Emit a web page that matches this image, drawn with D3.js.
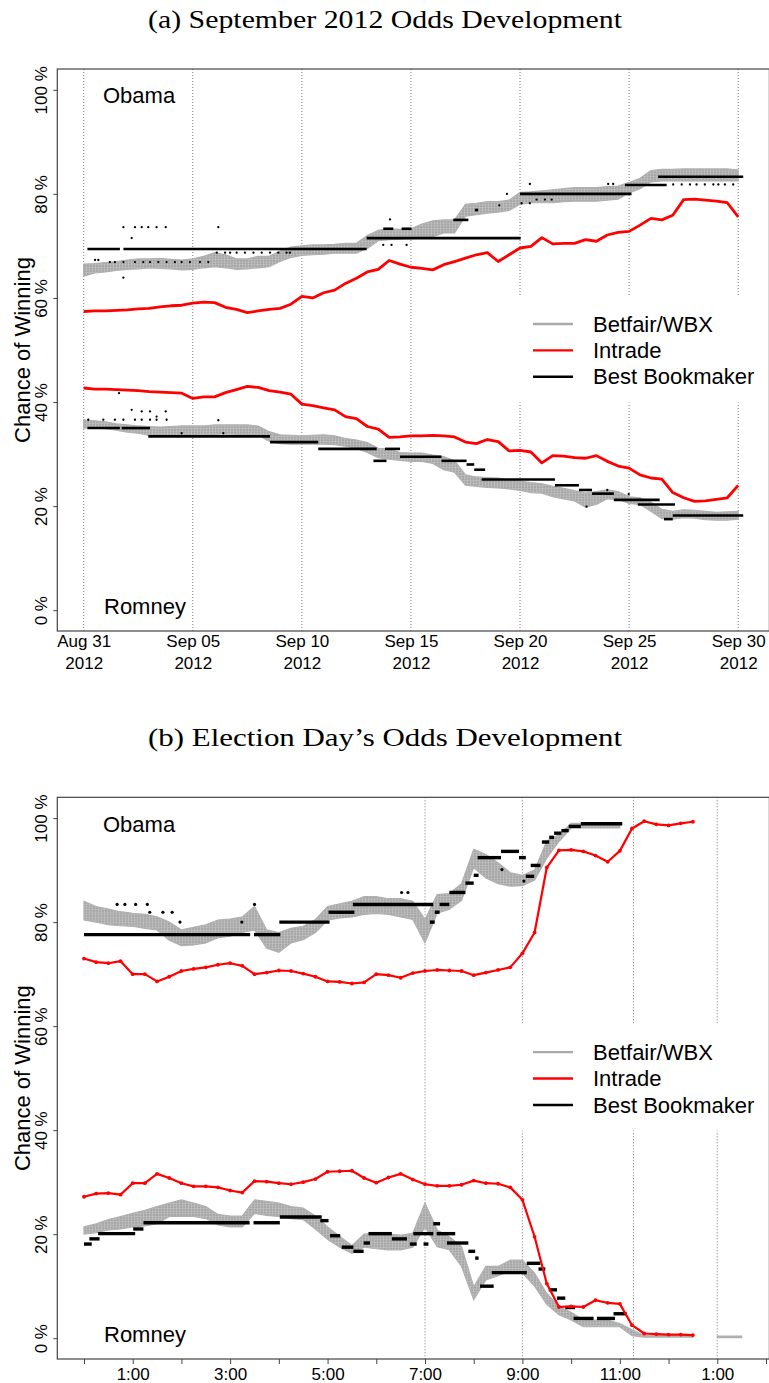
<!DOCTYPE html>
<html><head><meta charset="utf-8">
<script src="https://cdn.jsdelivr.net/npm/d3@7"></script>
<style>body{margin:0;background:#fff} svg{display:block}</style>
</head><body>
<svg id="fig" width="769" height="1383"></svg>
<script>
// ---------- (a) September 2012: one reading every half day from Aug 31 00:00 ----------
const sepStepDays = 0.5;
const sepIntradeObama = [57.4,57.5,57.5,57.6,57.7,57.9,58.0,58.3,58.5,58.6,59.0,59.2,59.1,58.2,57.8,57.2,57.5,57.8,58.0,58.8,
  60.3,60.0,61.0,61.5,62.8,63.8,65.0,65.5,67.2,66.5,65.9,65.7,65.4,66.4,67.0,67.65,68.3,68.7,67.0,68.3,
  69.6,69.9,71.6,70.4,70.5,70.5,71.2,70.9,72.1,72.6,72.8,74.0,75.3,75.0,75.9,78.9,79.0,78.8,78.6,78.3,75.6];
const sepIntradeRomney = [42.7,42.5,42.5,42.4,42.3,42.2,42.0,41.9,41.8,41.7,40.7,41.0,41.0,41.8,42.4,43.0,42.8,42.2,41.9,41.5,
  39.6,39.3,38.9,38.5,37.2,36.8,35.3,34.8,33.2,33.3,33.5,33.5,33.6,33.5,33.3,32.3,32.0,32.8,32.4,30.6,
  30.7,30.4,28.3,29.7,29.6,29.3,29.2,29.7,28.6,27.7,27.3,26.0,25.4,25.2,22.6,21.6,20.9,21.0,21.3,21.6,24.0];
const sepBetfairObamaLo = [64.2,64.8,65.0,65.3,65.5,65.6,65.8,65.7,65.6,65.4,65.5,65.8,66.0,65.8,65.5,65.6,65.8,66.0,67.0,67.8,
  68.2,68.3,68.4,68.6,68.6,68.6,69.5,71.0,71.2,71.3,71.4,71.5,71.8,72.5,72.5,75.7,76.0,76.3,76.5,76.8,
  78.0,78.3,78.3,78.3,78.5,78.6,78.6,78.6,78.8,79.0,80.2,81.0,82.3,82.5,82.5,82.5,82.5,82.5,82.5,82.5,82.5];
const sepBetfairObamaHi = [66.5,66.6,66.8,67.0,67.3,67.5,67.5,67.6,67.4,67.3,67.5,68.0,68.7,68.3,67.5,67.5,68.0,68.0,69.0,69.8,
  70.0,70.2,70.2,70.3,70.5,70.5,72.0,73.0,73.3,73.2,73.3,74.2,74.8,75.0,75.0,78.0,78.2,78.5,78.5,78.8,
  80.3,80.4,80.6,80.8,81.0,81.2,81.2,81.2,81.4,81.5,82.2,83.0,84.5,84.7,84.7,84.8,84.8,84.8,84.8,84.8,84.6];
const sepBetfairRomneyLo = [35.0,35.0,34.9,34.6,34.2,34.0,33.6,33.5,33.4,33.6,33.6,33.7,33.8,33.9,33.8,33.8,33.6,32.5,32.0,31.9,
  31.9,31.9,31.9,31.8,31.5,31.1,30.3,29.3,29.0,28.8,28.6,28.6,28.2,27.0,26.5,24.0,23.8,23.6,23.5,23.3,
  23.0,22.6,22.5,21.8,21.4,21.0,19.8,20.3,21.4,21.3,20.5,20.3,19.0,17.6,17.5,17.8,17.7,17.4,17.3,17.3,17.5];
const sepBetfairRomneyHi = [36.6,36.4,36.2,35.8,35.6,35.4,35.3,35.2,35.3,35.4,35.4,35.4,35.6,35.6,35.6,35.6,35.4,34.3,33.7,33.6,
  33.5,33.6,33.7,33.5,33.0,32.7,32.2,31.1,31.0,30.3,30.2,30.2,29.8,29.5,28.7,26.0,25.6,25.5,25.4,25.0,
  24.8,24.5,24.3,23.8,23.4,23.0,22.5,22.8,23.1,22.8,21.8,21.6,20.8,19.4,19.0,19.3,19.2,19.0,18.8,18.9,19.0];
// best bookmaker quotes: [from day, to day, chance %]
const sepBookObama = [[0.17,1.66,69.4],[1.82,12.97,69.4],[12.97,20.03,71.5],[13.73,14.19,73.3],[14.57,15.03,73.3],
  [16.94,17.63,75.0],[17.93,18.08,76.9],[20.0,25.11,80.0],[24.81,26.72,81.7],[26.33,30.23,83.3]];
const sepBookRomney = [[0.17,1.66,35.0],[1.74,3.04,35.0],[2.96,8.54,33.4],[8.54,10.75,32.3],[10.75,13.43,31.0],
  [13.28,13.88,28.7],[13.81,14.5,31.0],[14.5,16.4,29.5],[16.4,17.55,28.7],[17.55,17.9,28.0],[17.9,18.4,27.0],
  [18.24,21.6,25.1],[21.6,22.7,24.0],[22.7,23.3,23.1],[23.3,24.3,22.4],[24.3,26.4,21.2],[25.4,27.1,20.3],
  [26.6,27.0,17.5],[27.0,30.23,18.2]];
// isolated bookmaker quotes: [day, chance %]
const sepBookObamaDots = [[1.82,73.6],[2.35,73.6],[2.66,73.6],[2.96,73.6],[3.34,73.6],[3.76,73.6],[6.17,73.6],[2.2,71.5],
  [0.52,67.3],[0.67,67.3],[1.2,66.9],[1.43,66.9],[1.82,66.9],[2.35,66.9],[2.73,66.9],[3.04,66.9],[3.42,66.9],[3.8,66.9],
  [4.18,66.9],[4.49,66.9],[4.87,66.9],[5.33,66.9],[5.71,66.9],[1.82,63.9],
  [6.1,68.7],[6.48,68.7],[6.71,68.7],[7.01,68.7],[7.39,68.7],[7.78,68.7],[8.16,68.7],[8.54,68.7],[8.92,68.7],[9.3,68.7],[9.45,68.7],
  [14.04,75.1],[13.73,70.2],[14.11,70.2],[14.8,70.2],[19.4,80.0],[19.05,77.8],[20.07,78.2],[20.45,78.2],
  [20.76,78.9],[21.14,78.9],[21.45,78.9],[20.45,81.9],[24.04,81.9],[24.27,81.9],
  [27.02,81.8],[27.41,81.8],[27.79,81.8],[28.09,81.8],[28.47,81.8],[28.86,81.8],[29.09,81.8],[29.39,81.8],[29.77,81.8]];
const sepBookRomneyDots = [[2.2,38.5],[2.66,38.2],[3.04,38.2],[3.76,38.2],[3.34,37.2],[6.17,36.5],
  [0.21,36.6],[0.9,36.6],[1.43,36.6],[1.82,36.6],[2.35,36.6],[2.66,36.6],[3.04,36.6],[3.34,36.6],[3.8,36.6],
  [4.49,34.0],[6.4,34.0],[1.62,41.7],[23.05,19.9],[24.0,23.1],[24.98,22.3]];
const sepTickDays = [0,5,10,15,20,25,30];
const sepTickYear = "2012";

// ---------- (b) Election day: one reading every quarter hour from 12:00 ----------
const elecStepHours = 0.25;
const elecIntradeObama = [73.0,72.3,72.1,72.5,70.0,70.0,68.6,69.5,70.6,71.0,71.3,71.8,72.1,71.6,70.0,70.3,70.7,70.6,70.1,69.5,
  68.6,68.5,68.2,68.4,70.0,69.8,69.3,70.2,70.6,70.8,70.7,70.6,69.8,70.3,70.8,71.3,74.0,78.0,90.5,93.8,
  93.9,93.6,92.8,91.6,93.7,98.0,99.4,98.8,98.6,99.0,99.3];
const elecIntradeRomney = [27.2,27.8,27.9,27.6,29.8,29.8,31.6,30.8,29.8,29.2,29.2,29.0,28.4,28.0,30.2,30.1,29.8,29.6,30.0,30.6,
  32.0,32.1,32.2,30.8,29.9,30.9,31.6,30.5,29.6,29.3,29.3,29.5,30.3,29.8,29.7,29.0,26.6,19.5,10.5,6.0,
  6.1,6.0,7.3,6.8,6.6,2.5,0.9,0.8,0.7,0.7,0.6];
const elecBetfairObamaLo = [80.4,80.0,79.5,79.3,79.2,78.8,78.5,76.5,75.5,75.6,76.0,77.0,77.3,78.0,78.5,75.0,74.2,76.0,76.6,78.0,
  80.4,80.8,81.0,81.5,81.7,81.5,81.0,80.5,76.0,81.7,82.5,84.2,90.5,88.5,87.4,86.9,87.0,88.1,92.3,95.5,
  98.1,98.1,98.1,98.1,98.1];
const elecBetfairObamaHi = [84.0,83.0,82.5,82.0,81.7,81.5,81.0,80.0,78.5,79.0,79.5,80.4,80.6,81.0,83.0,78.5,78.0,78.8,79.2,80.5,
  83.0,83.5,84.0,84.9,84.9,84.5,84.5,84.0,80.5,85.3,85.5,87.4,94.0,93.0,91.4,89.5,89.0,90.0,95.6,96.8,
  99.0,99.0,99.0,99.0,99.0];
const elecBetfairRomneyLo = [20.0,20.3,20.8,21.0,21.4,21.6,22.0,23.4,23.4,23.4,23.0,21.8,21.4,21.4,24.0,23.6,23.4,23.0,22.8,21.0,
  19.0,17.5,16.3,17.5,17.2,17.0,17.0,17.5,21.4,17.6,17.0,13.8,7.4,11.2,12.0,12.9,12.5,10.0,6.5,4.5,
  3.5,2.2,2.2,2.2,2.2,0.5,0.2,0.2,0.2,0.2,0.2,null,0.1,0.1,0.1];
const elecBetfairRomneyHi = [21.4,22.0,22.8,23.4,24.0,24.6,25.3,26.0,26.6,26.0,25.3,23.8,23.5,23.5,26.6,26.3,26.0,25.3,25.0,23.5,
  21.4,19.6,17.8,20.0,20.2,20.0,19.8,20.2,26.0,20.8,19.5,17.6,9.9,13.8,13.8,15.0,15.0,12.5,8.6,6.1,
  5.0,3.5,3.5,3.5,2.8,1.6,0.5,0.5,0.5,0.5,0.5,null,0.4,0.4,0.4];
// best bookmaker quotes: [from hour, to hour, chance %]
const elecBookObama = [[0,3.41,77.6],[3.49,4.03,77.6],[4.01,5.04,80.0],[5.02,5.55,81.9],[5.52,7.17,83.4],[7.1,7.2,80.0],
  [7.2,7.3,81.9],[7.3,7.5,83.4],[7.5,7.83,85.7],[7.83,8.0,87.5],[8.0,8.1,89.0],[8.08,8.56,92.4],[8.56,8.93,93.6],
  [8.93,9.07,92.4],[9.07,9.24,88.8],[9.17,9.37,90.9],[9.4,9.55,95.4],[9.55,9.65,96.3],[9.65,9.8,97.1],[9.8,9.95,97.6],
  [9.95,10.2,98.4],[10.2,11.05,98.9]];
const elecBookRomney = [[0,0.16,18.1],[0.11,0.32,19.1],[0.29,1.05,20.1],[1.01,1.22,21.0],[1.22,3.4,22.2],[3.48,4.02,22.2],
  [4.02,4.88,23.3],[4.85,5.02,22.6],[5.05,5.26,19.7],[5.29,5.53,17.5],[5.53,5.74,16.7],[5.74,5.87,18.3],[5.84,6.32,20.1],
  [6.32,6.63,19.1],[6.69,6.83,18.1],[6.76,7.17,20.1],[6.97,7.07,18.1],[7.17,7.31,22.0],[7.24,7.62,20.1],[7.45,7.89,18.3],
  [7.89,8.03,16.7],[8.03,8.1,15.4],[8.13,8.41,10.0],[8.37,9.09,12.6],[9.09,9.37,14.4],[9.33,9.47,13.3],[9.54,9.71,9.3],
  [9.71,9.88,7.7],[9.88,10.08,5.9],[10.05,10.46,3.8],[10.53,10.9,3.8],[10.87,11.14,4.7]];
const elecBookObamaDots = [[0.68,83.4],[0.84,83.4],[1.06,83.4],[1.3,83.4],[1.35,81.9],[1.62,81.9],[1.81,81.9],
  [1.97,80.0],[3.24,80.0],[3.5,83.4],[6.52,85.7],[6.65,85.7],[8.58,90.1],[9.03,87.9]];
const elecTickHours = [0,1,2,3,4,5,6,7,8,9,10,11,12,13,14];
const elecTickLabels = ["","1:00","","3:00","","5:00","","7:00","","9:00","","11:00","","1:00",""];
const elecGuideHours = [7, 9, 11.28, 13];

const legendNames = ["Betfair/WBX", "Intrade", "Best Bookmaker"];
const yTicks = [0, 20, 40, 60, 80, 100];

// ---------- drawing ----------
const DAY0 = Date.UTC(2012, 7, 31);
const NOON = Date.UTC(2012, 10, 6, 12);
const atDay = d => new Date(DAY0 + d * 864e5);
const atHour = h => new Date(NOON + h * 36e5);

const SANS = "'Liberation Sans', Arial, Helvetica, sans-serif";
const SERIF = "'Liberation Serif', 'Times New Roman', serif";
const COLORS = ["#a9a9a9", "#ff0000", "#000000"];
const svg = d3.select("#fig");

// speckled fill for the exchange quote clouds
const pat = svg.append("defs").append("pattern").attr("id", "speckle")
  .attr("patternUnits", "userSpaceOnUse").attr("width", 3).attr("height", 2.6);
pat.append("rect").attr("width", 3).attr("height", 2.6).attr("fill", "#c4c4c4");
pat.append("rect").attr("width", 2.4).attr("height", 2).attr("fill", "#a6a6a6");

function series(values, step, at) {
  return values.map((v, i) => ({t: at(i * step), v}));
}
function band(lo, hi, step, at) {
  return lo.map((v, i) => ({t: at(i * step), lo: v, hi: hi[i]}));
}

function drawPanel(p) {
  const {x, y} = p;
  const [x0, x1] = x.range();
  const [yb, yt] = y.range();
  const g = svg.append("g");

  // title
  g.append("text").attr("x", 385).attr("y", p.titleY)
    .attr("text-anchor", "middle").attr("font-family", SERIF).attr("font-size", 26)
    .attr("textLength", 474).attr("lengthAdjust", "spacingAndGlyphs")
    .text(p.title);

  // dotted guides
  g.append("g").selectAll("line").data(p.guides).join("line")
    .attr("x1", d => x(d)).attr("x2", d => x(d)).attr("y1", yt).attr("y2", yb)
    .attr("stroke", "#7a7a7a").attr("stroke-width", 1).attr("stroke-dasharray", "1,2");

  // legend background
  const ly = y(55);
  g.append("rect").attr("x", 515).attr("y", ly - 28.5).attr("width", 260).attr("height", 107)
    .attr("fill", "#fff");

  // Betfair/WBX quote clouds
  const area = d3.area().defined(d => d.lo != null)
    .x(d => x(d.t)).y0(d => y(d.lo)).y1(d => y(d.hi));
  g.append("g").selectAll("path").data(p.bands).join("path")
    .attr("d", area).attr("fill", "url(#speckle)").attr("stroke", "#b0b0b0").attr("stroke-width", 1.2);

  // best bookmaker steps and single quotes
  g.append("g").selectAll("line").data(p.book).join("line")
    .attr("x1", d => x(p.at(d[0]))).attr("x2", d => x(p.at(d[1])))
    .attr("y1", d => y(d[2])).attr("y2", d => y(d[2]))
    .attr("stroke", "#000").attr("stroke-width", p.bookWidth);
  g.append("g").selectAll("circle").data(p.bookDots).join("circle")
    .attr("cx", d => x(p.at(d[0]))).attr("cy", d => y(d[1])).attr("r", p.dotR).attr("fill", "#000");

  // Intrade
  const line = d3.line().defined(d => d.v != null).x(d => x(d.t)).y(d => y(d.v));
  g.append("g").selectAll("path").data(p.intrade).join("path")
    .attr("d", line).attr("fill", "none").attr("stroke", "#ff0000")
    .attr("stroke-width", p.redWidth).attr("stroke-linejoin", "round");
  if (p.redDots) {
    g.append("g").selectAll("circle").data(p.intrade.flat()).join("circle")
      .attr("cx", d => x(d.t)).attr("cy", d => y(d.v)).attr("r", 1.9).attr("fill", "#ff0000");
  }

  // frame
  g.append("rect").attr("x", x0).attr("y", yt).attr("width", x1 - x0).attr("height", yb - yt)
    .attr("fill", "none").attr("stroke", "#444").attr("stroke-width", 1.2);

  // y axis
  const ya = g.append("g").attr("transform", `translate(${x0},0)`)
    .call(d3.axisLeft(y).tickValues(yTicks).tickSize(4).tickFormat(d => d + " %"));
  ya.select(".domain").remove();
  ya.selectAll(".tick line").attr("stroke", "#444");
  ya.selectAll(".tick text").attr("x", null).attr("dy", null)
    .attr("transform", "translate(-10.5,0) rotate(-90)").attr("text-anchor", "middle")
    .attr("font-family", SANS).attr("font-size", 17).attr("fill", "#000");
  g.append("text").attr("transform", `translate(29.5,${(yt + yb) / 2}) rotate(-90)`)
    .attr("text-anchor", "middle").attr("font-family", SANS).attr("font-size", 22)
    .text("Chance of Winning");

  // x axis
  const xa = g.append("g").attr("transform", `translate(0,${yb})`).call(p.xAxis);
  xa.select(".domain").remove();
  xa.selectAll(".tick line").attr("stroke", "#444");
  xa.selectAll(".tick text").attr("font-family", SANS).attr("font-size", 17).attr("fill", "#000");
  if (p.fixX) p.fixX(xa);

  // candidate names
  g.append("text").attr("x", 103).attr("y", yt + 34.3).attr("font-family", SANS).attr("font-size", 22).text("Obama");
  g.append("text").attr("x", 104).attr("y", yb - 17.5).attr("font-family", SANS).attr("font-size", 22).text("Romney");

  // legend
  const lg = g.append("g").selectAll("g").data(legendNames).join("g")
    .attr("transform", (d, i) => `translate(0,${ly + i * 26.4})`);
  lg.append("line").attr("x1", 533).attr("x2", 573).attr("stroke", (d, i) => COLORS[i]).attr("stroke-width", 2.4);
  lg.append("text").attr("x", 593).attr("y", 7.7).attr("font-family", SANS).attr("font-size", 22).text(d => d);
}

// panel (a)
const xa = d3.scaleUtc().domain([atDay(-1.21), atDay(31.43)]).range([57.3, 769.4]);
const ya = d3.scaleLinear().domain([-4, 104]).range([631, 69]);
drawPanel({
  title: "(a) September 2012 Odds Development", titleY: 28.3,
  x: xa, y: ya, at: atDay,
  guides: sepTickDays.map(atDay),
  bands: [band(sepBetfairObamaLo, sepBetfairObamaHi, sepStepDays, atDay),
          band(sepBetfairRomneyLo, sepBetfairRomneyHi, sepStepDays, atDay)],
  book: sepBookObama.concat(sepBookRomney), bookWidth: 2.6,
  bookDots: sepBookObamaDots.concat(sepBookRomneyDots), dotR: 1.15,
  intrade: [series(sepIntradeObama, sepStepDays, atDay), series(sepIntradeRomney, sepStepDays, atDay)],
  redWidth: 2.8, redDots: false,
  xAxis: d3.axisBottom(xa).tickValues(sepTickDays.map(atDay)).tickSize(0).tickFormat(d3.utcFormat("%b %d")),
  fixX: sel => {
    sel.selectAll(".tick text").attr("y", 15.7).attr("dy", null)
      .each(function () {
        const t = d3.select(this), first = t.text();
        t.text(null);
        t.append("tspan").attr("x", 0).text(first);
        t.append("tspan").attr("x", 0).attr("dy", 22.3).text(sepTickYear);
      });
  }
});

// panel (b)
const xb = d3.scaleUtc().domain([atHour(-0.548), atHour(14.07)]).range([57.3, 769.4]);
const yb = d3.scaleLinear().domain([-4, 104]).range([1359, 797.3]);
drawPanel({
  title: "(b) Election Day\u2019s Odds Development", titleY: 746,
  x: xb, y: yb, at: atHour,
  guides: elecGuideHours.map(atHour),
  bands: [band(elecBetfairObamaLo, elecBetfairObamaHi, elecStepHours, atHour),
          band(elecBetfairRomneyLo, elecBetfairRomneyHi, elecStepHours, atHour)],
  book: elecBookObama.concat(elecBookRomney), bookWidth: 3.4,
  bookDots: elecBookObamaDots, dotR: 1.6,
  intrade: [series(elecIntradeObama, elecStepHours, atHour), series(elecIntradeRomney, elecStepHours, atHour)],
  redWidth: 2.2, redDots: true,
  xAxis: d3.axisBottom(xb).tickValues(elecTickHours.map(atHour)).tickSize(5)
    .tickFormat((d, i) => elecTickLabels[i]),
  fixX: sel => sel.selectAll(".tick text").attr("y", 21).attr("dy", null)
});
</script>
</body></html>
